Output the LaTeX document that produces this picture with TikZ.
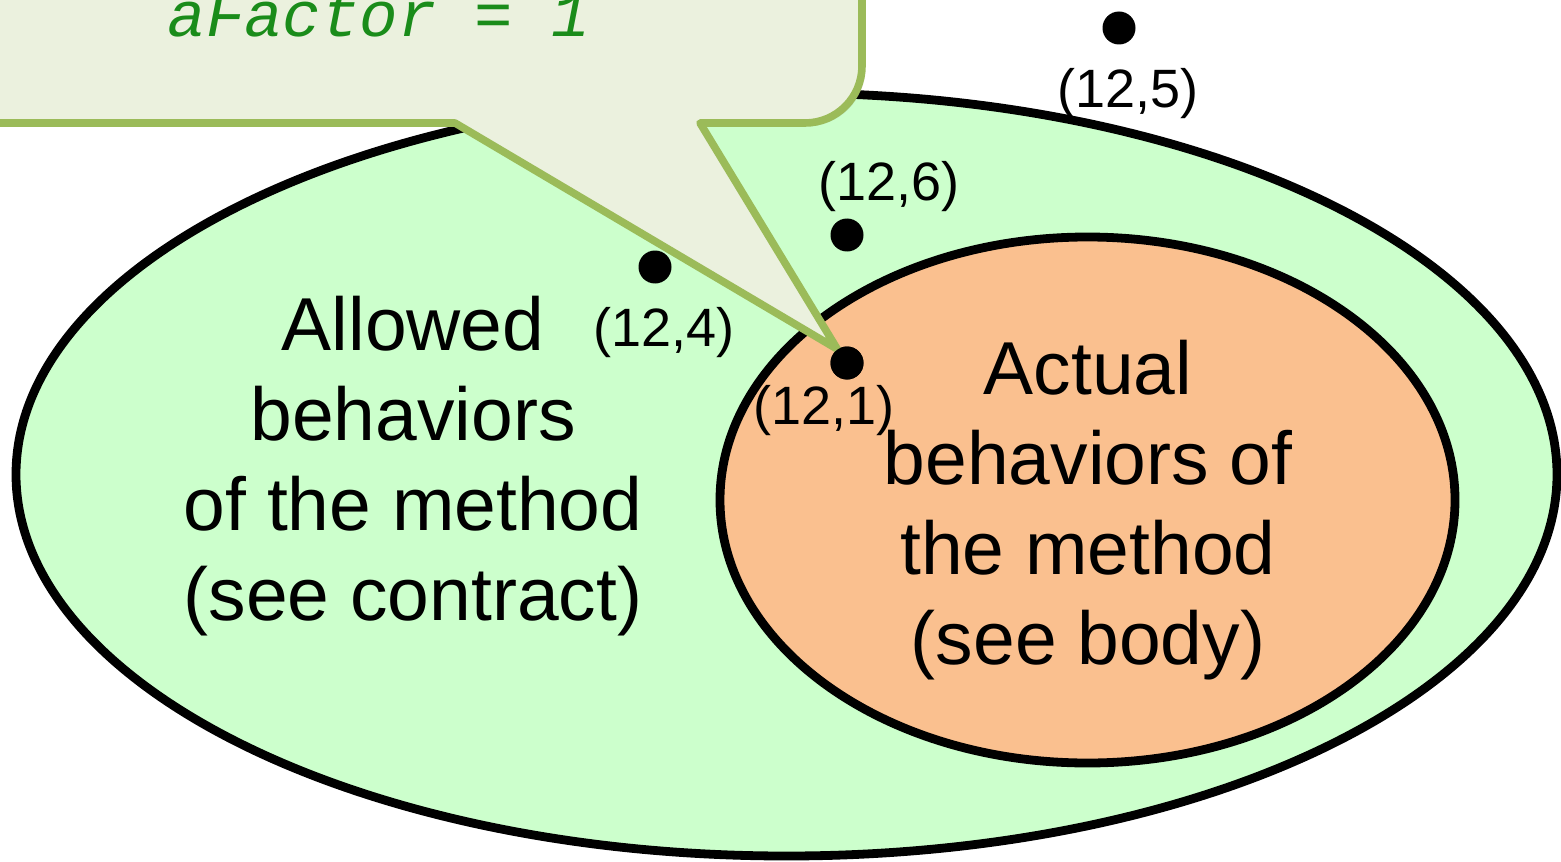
\documentclass[tikz,border=0pt]{standalone}
\usepackage{fontspec}
\setmainfont{Liberation Sans}
\newfontfamily\codefont{Liberation Mono}
\usepackage{xcolor}
\usetikzlibrary{positioning, shapes.geometric, shadows}
\definecolor{allowedgreen}{HTML}{CCFFCC}
\definecolor{actualorange}{HTML}{FAC08F}
\definecolor{calloutfill}{HTML}{EBF1DE}
\definecolor{calloutline}{HTML}{9BBB59}
\definecolor{codegreen}{HTML}{1A8C1A}

\begin{document}
\begin{tikzpicture}
                      [x=0.5pt, y=-0.5pt, text centered,
                       setbox/.style={ellipse, draw=black, line width=4.4pt, inner sep=0pt},
                       bigtext/.style={align=center, font=\fontsize{37.5}{45}\selectfont},
                       pointdot/.style={circle, fill=black, inner sep=0pt, minimum size=16.5pt},
                       pointlabel/.style={inner sep=0pt, font=\fontsize{27}{30}\selectfont},
                       calloutbox/.style={fill=calloutfill, draw=calloutline, line width=3.8pt, line join=round,
                                          drop shadow={opacity=0.2, shadow xshift=1.5pt, shadow yshift=-1.5pt}}]
                      \clip (0,0) rectangle (1561,861);

                      % sets %
                      \node[setbox, fill=allowedgreen, minimum width=770.5pt, minimum height=381.5pt] (allowed) at (786.5,474.5) {};
                      \node[setbox, fill=actualorange, minimum width=367.5pt, minimum height=263pt] (actual) at (1087.5,500) {};
                      \node[bigtext] (allowedtxt) at (413,466) {Allowed\\behaviors\\of the method\\(see contract)};
                      \node[bigtext] (actualtxt) at (1088,510) {Actual\\behaviors of\\the method\\(see body)};

                      % points %
                      \node[pointdot] (d1) at (847,363) {};
                      \node[pointdot] (d4) at (655,267) {};
                      \node[pointdot] (d5) at (1119,28) {};
                      \node[pointdot] (d6) at (847,235) {};
                      \node[pointlabel, below=2.75pt of d1, xshift=-11.5pt] (l1) {(12,1)};
                      \node[pointlabel, below=11.75pt of d4, xshift=4.5pt] (l4) {(12,4)};
                      \node[pointlabel, below=11.5pt of d5, xshift=4.5pt] (l5) {(12,5)};
                      \node[pointlabel, above=3.25pt of d6, xshift=21pt] (l6) {(12,6)};

                      % callout %
                      \path[calloutbox] (-30,-30) -- (862,-30) -- (862,66) arc[start angle=0, end angle=90, radius=57]
                            -- (700,123) -- (d1.125) -- (455,123) -- (-30,123) -- cycle;
                      \node[font=\codefont\itshape\fontsize{32}{36}\selectfont, text=codegreen, anchor=base] (code) at (379,37) {aFactor = 1};
                      \node[pointdot] at (d1) {};
                    \end{tikzpicture}
\end{document}
